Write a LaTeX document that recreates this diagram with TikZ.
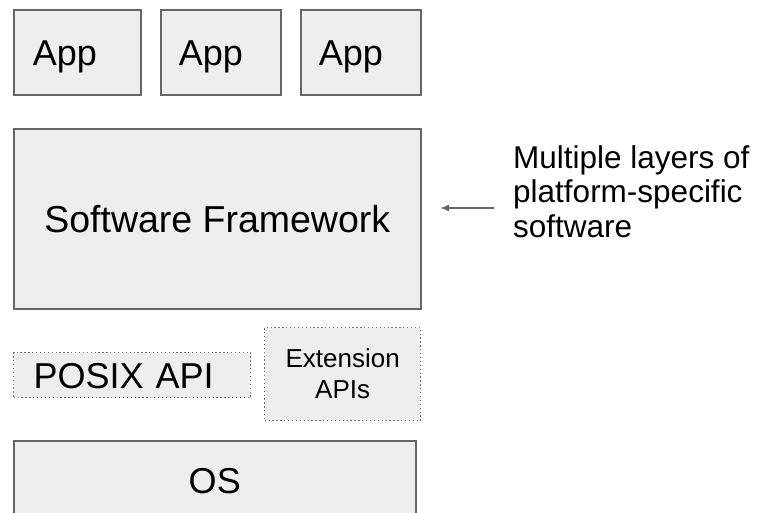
\documentclass[tikz,border=0pt]{standalone}
\usepackage{fontspec}
\setmainfont{Liberation Sans}
\usetikzlibrary{arrows.meta}
\definecolor{boxfill}{HTML}{EEEEEE}
\definecolor{boxline}{HTML}{666666}
\definecolor{dotline}{HTML}{707070}

\begin{document}
\begin{tikzpicture}[x=1pt,y=-1pt,
  layer/.style={draw=boxline, fill=boxfill, line width=1.5pt,
    anchor=north west, inner ysep=0pt},
  dotlayer/.style={draw=dotline, fill=boxfill, line width=1.3pt,
    dash pattern=on 1.3pt off 2.6pt, anchor=north west, inner ysep=0pt},
  bigtext/.style={font=\fontsize{36}{40}\selectfont, text height=25.8pt, text depth=0pt},
  apptext/.style={bigtext, align=left, minimum height=85pt}
]
\useasboundingbox (0,0) rectangle (757,512);

% application row
\node[layer, apptext, inner xsep=19pt, text width=89pt] (app1) at (13,9) {App};
\node[layer, apptext, inner xsep=18pt, text width=84pt] (app2) at (160,9) {App};
\node[layer, apptext, inner xsep=18pt, text width=84pt] (app3) at (300,9) {App};

% framework
\node[layer, inner xsep=0pt, minimum width=407pt, minimum height=180pt,
  font=\fontsize{37.5}{40}\selectfont, text height=26.8pt, text depth=0pt] (fw) at (13,128) {Software Framework};

% API layer
\node[dotlayer, bigtext, align=left, inner xsep=20pt, text width=197pt,
  minimum height=45pt] (posix) at (13,352) {POSIX API};
\node[dotlayer, align=center, inner xsep=0pt, minimum width=156pt, minimum height=93pt,
  font=\fontsize{26}{31}\selectfont] (ext) at (264,327) {Extension\\APIs};

% operating system
\node[layer, bigtext, inner xsep=0pt, minimum width=402pt, minimum height=79pt] (os) at (13,440) {OS};

% annotation
\node[anchor=north west, inner sep=0pt, align=left,
  font=\fontsize{31.5}{34.5}\selectfont] (note) at (513,145)
  {Multiple layers of\\platform-specific\\software};
\coordinate (tail) at (494,208);
\coordinate (head) at (440,208);
\draw[boxline, line width=1.5pt, -{Latex[length=9pt,width=7pt]}] (tail) -- (head);
\end{tikzpicture}
\end{document}
